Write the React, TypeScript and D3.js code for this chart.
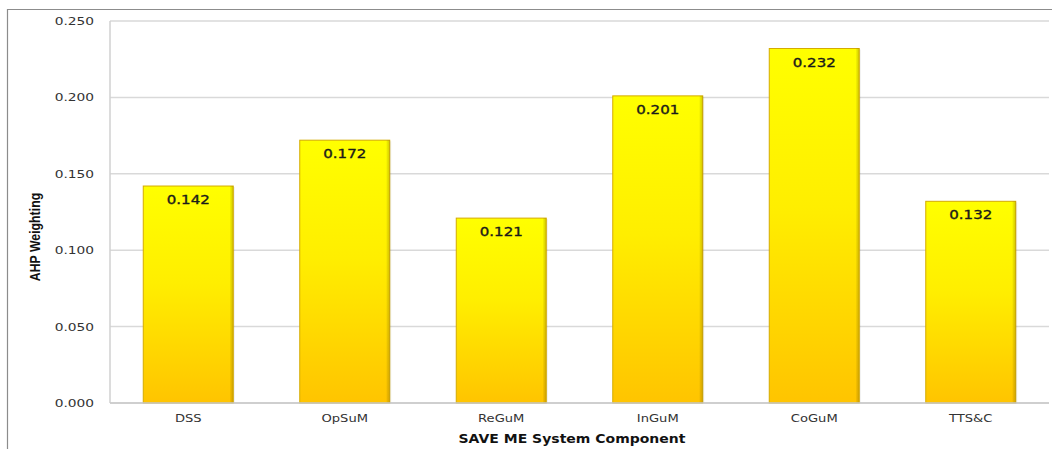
import React from "react";
import * as d3 from "d3";

const categories = ["DSS", "OpSuM", "ReGuM", "InGuM", "CoGuM", "TTS&C"];
const weights = [0.142, 0.172, 0.121, 0.201, 0.232, 0.132];
const yTicks = [0, 0.05, 0.1, 0.15, 0.2, 0.25];

const W = 1052;
const H = 449;
const plot = { left: 110, right: 1049, top: 21, bottom: 403 };
const SX = 1.25; // horizontal stretch applied to labels

export default function App() {
  const x = d3
    .scaleBand<string>()
    .domain(categories)
    .range([plot.left, plot.right])
    .paddingInner(0.425)
    .paddingOuter(0.2125);
  const y = d3.scaleLinear().domain([0, 0.25]).range([plot.bottom, plot.top]);
  const fmt = d3.format(".3f");
  const font = "'DejaVu Sans', Verdana, sans-serif";

  return (
    <svg
      width={W}
      height={H}
      style={{ position: "absolute", left: 0, top: 0, background: "#fff" }}
    >
      <defs>
        <linearGradient id="barFill" x1="0" y1="0" x2="0" y2="1">
          <stop offset="0%" stopColor="#FFFF00" />
          <stop offset="45%" stopColor="#FFEE00" />
          <stop offset="100%" stopColor="#FFC400" />
        </linearGradient>
        <linearGradient id="barEdge" x1="0" y1="0" x2="1" y2="0">
          <stop offset="0%" stopColor="#000" stopOpacity={0} />
          <stop offset="96%" stopColor="#000" stopOpacity={0} />
          <stop offset="100%" stopColor="#8a6a00" stopOpacity={0.3} />
        </linearGradient>
      </defs>

      {/* outer chart frame */}
      <path d={`M7.5,${H + 2} V9.5 H${W + 2}`} fill="none" stroke="#8c8c8c" strokeWidth={1.2} />

      {/* gridlines */}
      {yTicks.map((t) => (
        <line
          key={t}
          x1={plot.left}
          x2={plot.right}
          y1={y(t)}
          y2={y(t)}
          stroke="#d9d9d9"
          strokeWidth={1.5}
        />
      ))}
      <line x1={plot.left} x2={plot.left} y1={plot.top} y2={plot.bottom} stroke="#d0d0d0" strokeWidth={1.5} />

      {/* y tick labels */}
      {yTicks.map((t) => (
        <text
          key={"l" + t}
          transform={`translate(94,${y(t) + 4}) scale(${SX},1)`}
          textAnchor="end"
          fontFamily={font}
          fontSize={11}
          fill="#333"
        >
          {fmt(t)}
        </text>
      ))}

      {/* bars */}
      {categories.map((c, i) => {
        const bx = x(c)!;
        const bw = x.bandwidth();
        const top = y(weights[i]);
        const h = plot.bottom - top;
        return (
          <g key={c}>
            <rect x={bx + 1.5} y={top + 1} width={bw} height={h - 1} fill="#000" opacity={0.07} />
            <rect x={bx} y={top} width={bw} height={h} fill="url(#barFill)" stroke="#d4ab00" strokeWidth={1} />
            <rect x={bx} y={top} width={bw} height={h} fill="url(#barEdge)" />
            <text
              transform={`translate(${bx + bw / 2},${top + 18}) scale(${SX},1)`}
              textAnchor="middle"
              fontFamily={font}
              fontSize={12}
              fontWeight="normal"
              fill="#1a1a1a"
              stroke="#1a1a1a"
              strokeWidth={0.35}
            >
              {fmt(weights[i])}
            </text>
            <text
              transform={`translate(${bx + bw / 2},${plot.bottom + 19}) scale(${SX},1)`}
              textAnchor="middle"
              fontFamily={font}
              fontSize={10.5}
              fill="#333"
            >
              {c}
            </text>
          </g>
        );
      })}

      {/* baseline */}
      <line x1={plot.left} x2={plot.right} y1={plot.bottom} y2={plot.bottom} stroke="#c8c8c8" strokeWidth={1.5} />

      {/* axis titles */}
      <text
        transform={`translate(40,237) rotate(-90) scale(0.82,1)`}
        textAnchor="middle"
        fontFamily="'Liberation Sans', Arial, sans-serif"
        fontSize={15}
        fontWeight="bold"
        fill="#111"
      >
        AHP Weighting
      </text>
      <text
        transform={`translate(572,443) scale(1.12,1)`}
        textAnchor="middle"
        fontFamily="'DejaVu Sans', sans-serif"
        fontSize={12.5}
        fontWeight="bold"
        fill="#111"
      >
        SAVE ME System Component
      </text>
    </svg>
  );
}
